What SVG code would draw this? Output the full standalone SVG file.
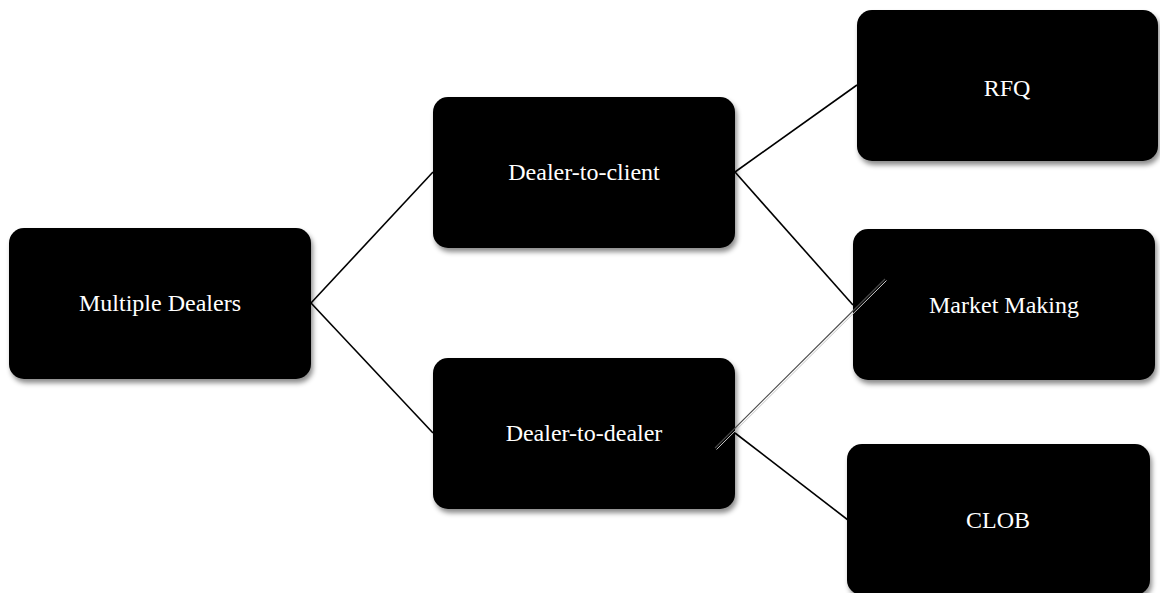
<svg xmlns="http://www.w3.org/2000/svg" width="1160" height="593" viewBox="0 0 1160 593">
  <defs>
    <filter id="shadow" x="-10%" y="-10%" width="125%" height="130%">
      <feDropShadow dx="2" dy="4" stdDeviation="2.5" flood-color="#000" flood-opacity="0.45"/>
    </filter>
    <style>
      .box { fill: #000; filter: url(#shadow); }
      .label { fill: #fff; font-family: "Liberation Serif", "Times New Roman", serif; font-size: 24px; text-anchor: middle; }
      .edge { stroke: #000; stroke-width: 1.6; fill: none; }
    </style>
  </defs>
  <rect width="1160" height="593" fill="#fff"/>

  <!-- connectors -->
  <g id="connectors">
    <line class="edge" x1="311" y1="303" x2="433" y2="172"/>
    <line class="edge" x1="311" y1="303" x2="433" y2="433"/>
    <line class="edge" x1="735" y1="172" x2="857" y2="85"/>
    <line class="edge" x1="735" y1="172" x2="853" y2="305"/>
    <line class="edge" x1="735" y1="433" x2="848" y2="520"/>
  </g>

  <g id="node-multiple-dealers">
    <rect class="box" x="9" y="228" width="302" height="151" rx="15"/>
    <text class="label" x="160" y="311">Multiple Dealers</text>
  </g>
  <g id="node-dealer-to-client">
    <rect class="box" x="433" y="97" width="302" height="151" rx="15"/>
    <text class="label" x="584" y="180">Dealer-to-client</text>
  </g>
  <g id="node-dealer-to-dealer">
    <rect class="box" x="433" y="358" width="302" height="151" rx="15"/>
    <text class="label" x="584" y="441">Dealer-to-dealer</text>
  </g>
  <g id="node-rfq">
    <rect class="box" x="857" y="10" width="301" height="151" rx="15"/>
    <text class="label" x="1007" y="96">RFQ</text>
  </g>
  <g id="node-market-making">
    <rect class="box" x="853" y="229" width="302" height="151" rx="15"/>
    <text class="label" x="1004" y="313">Market Making</text>
  </g>
  <g id="node-clob">
    <rect class="box" x="847" y="444" width="303" height="151" rx="15"/>
    <text class="label" x="998" y="528">CLOB</text>
  </g>

  <!-- thin link from Dealer-to-dealer up to Market Making, drawn over the boxes -->
  <g id="connector-overlay">
    <line x1="716.5" y1="449.5" x2="886.5" y2="280.5" stroke="#c8c8c8" stroke-width="1"/>
    <line x1="715" y1="448" x2="885" y2="279" stroke="#4a4a4a" stroke-width="1.1"/>
  </g>
</svg>
